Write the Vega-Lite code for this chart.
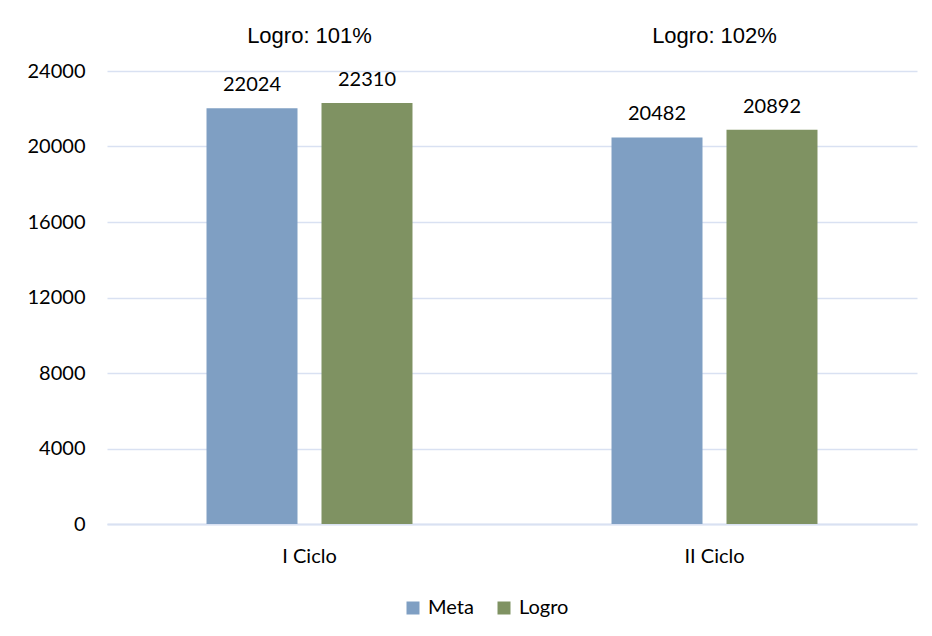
{
  "$schema": "https://vega.github.io/schema/vega-lite/v6.json",
  "width": 810,
  "height": 453,
  "autosize": {"type": "none"},
  "padding": {"left": 107, "top": 71, "right": 15, "bottom": 112},
  "background": "white",
  "config": {"view": {"stroke": null}, "font": "Lato"},
  "datasets": {
    "barras": [
      {"ciclo": "I Ciclo", "serie": "Meta", "valor": 22024},
      {"ciclo": "I Ciclo", "serie": "Logro", "valor": 22310},
      {"ciclo": "II Ciclo", "serie": "Meta", "valor": 20482},
      {"ciclo": "II Ciclo", "serie": "Logro", "valor": 20892}
    ],
    "logros": [
      {"ciclo": "I Ciclo", "texto": "Logro: 101%"},
      {"ciclo": "II Ciclo", "texto": "Logro: 102%"}
    ]
  },
  "layer": [
    {
      "data": {"name": "barras"},
      "mark": {"type": "bar"},
      "encoding": {
        "x": {
          "field": "ciclo", "type": "nominal", "sort": ["I Ciclo", "II Ciclo"],
          "scale": {"paddingInner": 0.4914, "paddingOuter": 0.2457},
          "axis": {
            "title": null, "labelAngle": 0, "domain": true, "domainColor": "#D9E1F2", "domainWidth": 2,
            "ticks": false, "labelPadding": 38, "labelBaseline": "alphabetic",
            "labelFontSize": 20, "labelColor": "#000000", "labelFont": "Lato"
          }
        },
        "xOffset": {
          "field": "serie", "type": "nominal", "sort": ["Meta", "Logro"],
          "scale": {"paddingInner": 0.2087, "paddingOuter": 0}
        },
        "y": {
          "field": "valor", "type": "quantitative",
          "scale": {"domain": [0, 24000], "nice": false},
          "axis": {
            "title": null, "values": [0, 4000, 8000, 12000, 16000, 20000, 24000],
            "domain": false, "ticks": false, "labelPadding": 22, "format": "d",
            "labelFontSize": 20, "labelColor": "#000000", "labelFont": "Lato",
            "gridColor": "#D9E1F2", "gridWidth": 1.5
          }
        },
        "color": {
          "field": "serie", "type": "nominal", "sort": ["Meta", "Logro"],
          "scale": {"range": ["#7F9FC3", "#7F9262"]},
          "legend": {
            "title": null, "orient": "none", "legendX": 296, "legendY": 527,
            "direction": "horizontal", "symbolType": "square", "symbolSize": 169,
            "symbolStrokeWidth": 0, "labelFontSize": 20, "labelFont": "Lato",
            "labelColor": "#000000", "labelOffset": 5, "columnPadding": 20
          }
        }
      }
    },
    {
      "data": {"name": "barras"},
      "mark": {"type": "text", "baseline": "alphabetic", "dy": -17, "fontSize": 20, "font": "Lato", "color": "#000000"},
      "encoding": {
        "x": {"field": "ciclo", "type": "nominal", "sort": ["I Ciclo", "II Ciclo"]},
        "xOffset": {"field": "serie", "type": "nominal", "sort": ["Meta", "Logro"]},
        "y": {"field": "valor", "type": "quantitative"},
        "text": {"field": "valor", "type": "quantitative", "format": "d"}
      }
    },
    {
      "data": {"name": "logros"},
      "mark": {"type": "text", "baseline": "alphabetic", "fontSize": 22, "font": "Liberation Sans", "color": "#000000"},
      "encoding": {
        "x": {"field": "ciclo", "type": "nominal", "sort": ["I Ciclo", "II Ciclo"]},
        "y": {"datum": 25500, "type": "quantitative"},
        "text": {"field": "texto", "type": "nominal"}
      }
    }
  ]
}
